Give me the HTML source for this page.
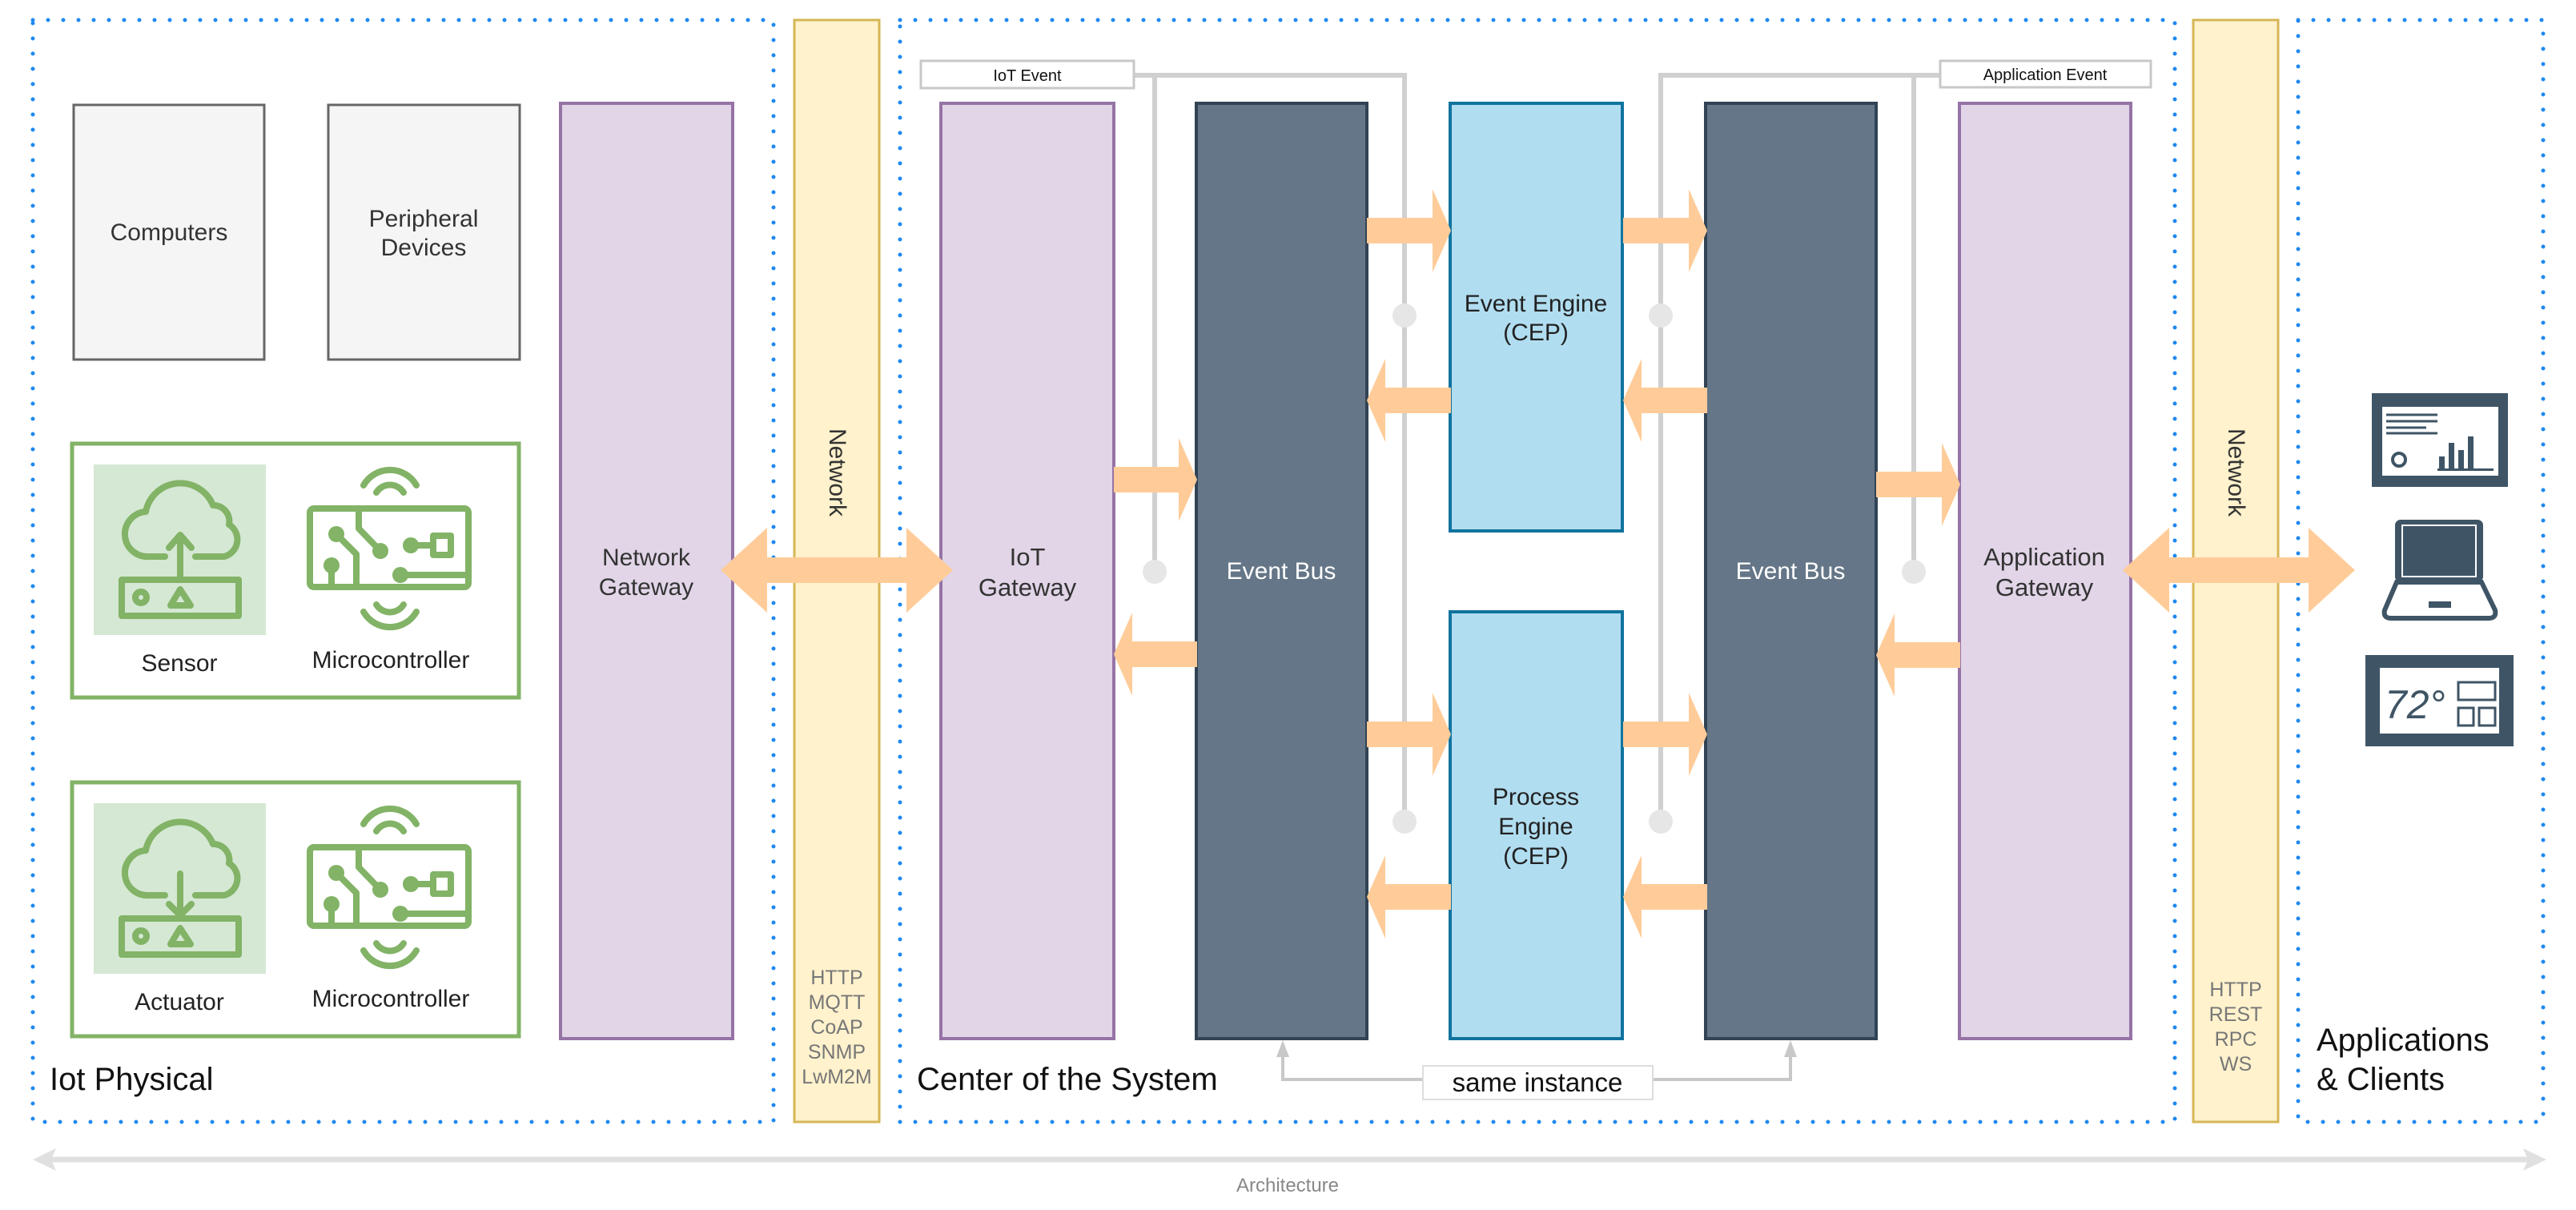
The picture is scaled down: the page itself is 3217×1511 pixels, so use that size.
<!DOCTYPE html>
<html><head><meta charset="utf-8"><style>
html,body{margin:0;padding:0;background:#fff;}
svg{display:block;}
text{font-family:"Liberation Sans",sans-serif;}
</style></head><body>
<svg width="3217" height="1511" viewBox="0 0 3217 1511" xmlns="http://www.w3.org/2000/svg">
<!-- dotted containers -->
<g fill="none" stroke="#1E88F0" stroke-width="5" stroke-dasharray="0 19" stroke-linecap="round">
<rect x="41" y="25" width="925" height="1376"/>
<rect x="1124" y="25" width="1592" height="1376"/>
<rect x="2870" y="25" width="306" height="1376"/>
</g>
<!-- network bars -->
<rect x="992" y="25" width="106" height="1376" fill="#FFF2CC" stroke="#D6B656" stroke-width="3"/>
<rect x="2739" y="25" width="106" height="1376" fill="#FFF2CC" stroke="#D6B656" stroke-width="3"/>
<text transform="translate(1036,590) rotate(90)" text-anchor="middle" font-size="30" fill="#333">Network</text>
<text transform="translate(2783,590) rotate(90)" text-anchor="middle" font-size="30" fill="#333">Network</text>
<g font-size="25" fill="#777" text-anchor="middle">
<text x="1045" y="1229">HTTP</text><text x="1045" y="1260">MQTT</text><text x="1045" y="1291">CoAP</text><text x="1045" y="1322">SNMP</text><text x="1045" y="1353">LwM2M</text>
<text x="2792" y="1244">HTTP</text><text x="2792" y="1275">REST</text><text x="2792" y="1306">RPC</text><text x="2792" y="1337">WS</text>
</g>
<!-- left panel -->
<rect x="92" y="131" width="238" height="318" fill="#F5F5F5" stroke="#666" stroke-width="3"/>
<rect x="410" y="131" width="239" height="318" fill="#F5F5F5" stroke="#666" stroke-width="3"/>
<text x="211" y="300" font-size="30" fill="#333" text-anchor="middle">Computers</text>
<text x="529" y="283" font-size="30" fill="#333" text-anchor="middle">Peripheral</text>
<text x="529" y="319" font-size="30" fill="#333" text-anchor="middle">Devices</text>
<rect x="700" y="129" width="215" height="1168" fill="#E1D5E7" stroke="#9673A6" stroke-width="4"/>
<text x="807" y="706" font-size="30" fill="#333" text-anchor="middle">Network</text>
<text x="807" y="743" font-size="30" fill="#333" text-anchor="middle">Gateway</text>

<g id="dev1">
<rect x="90" y="554" width="558" height="317" fill="#fff" stroke="#82B366" stroke-width="5"/>
<rect x="117" y="580" width="215" height="213" fill="#D5E8D4"/>
<g fill="none" stroke="#82B366" stroke-width="8" stroke-linecap="round" stroke-linejoin="round">
<path d="M206,695 H186 a28,28 0 0 1 -4,-56 a44,44 0 0 1 84,-8 a20,20 0 0 1 20,24 a22,22 0 0 1 -6,40 H244"/>
<line x1="225" y1="722" x2="225" y2="670"/><polyline points="211,684 225,668 239,684"/>
<rect x="152" y="724" width="146" height="45"/>
<circle cx="176" cy="746" r="7"/><polygon points="213,756 225,736 238,756"/>
<rect x="387" y="635" width="198" height="98" rx="5"/>
<polyline points="448,635 448,660 475,688"/><polyline points="420,667 445,692 445,733"/>
<line x1="414" y1="706" x2="414" y2="733"/><line x1="513" y1="681" x2="540" y2="681"/>
<rect x="541" y="669" width="22" height="24"/><line x1="500" y1="718" x2="585" y2="718"/>
<path d="M470,615 A20,20 0 0 1 504,615"/><path d="M454,606 A38,38 0 0 1 520,606"/>
<path d="M470,755 A20,20 0 0 0 504,755"/><path d="M454,764 A38,38 0 0 0 520,764"/>
</g>
<g fill="#82B366"><circle cx="475" cy="688" r="10"/><circle cx="420" cy="667" r="10"/><circle cx="414" cy="706" r="10"/><circle cx="513" cy="681" r="10"/><circle cx="500" cy="718" r="10"/></g>
<text x="488" y="834" font-size="30" fill="#222" text-anchor="middle">Microcontroller</text>
</g>
<text x="224" y="838" font-size="30" fill="#222" text-anchor="middle">Sensor</text>
<g transform="translate(0,423)">
<rect x="90" y="554" width="558" height="317" fill="#fff" stroke="#82B366" stroke-width="5"/>
<rect x="117" y="580" width="215" height="213" fill="#D5E8D4"/>
<g fill="none" stroke="#82B366" stroke-width="8" stroke-linecap="round" stroke-linejoin="round">
<path d="M206,695 H186 a28,28 0 0 1 -4,-56 a44,44 0 0 1 84,-8 a20,20 0 0 1 20,24 a22,22 0 0 1 -6,40 H244"/>
<line x1="225" y1="722" x2="225" y2="668"/><polyline points="211,706 225,720 239,706"/>
<rect x="152" y="724" width="146" height="45"/>
<circle cx="176" cy="746" r="7"/><polygon points="213,756 225,736 238,756"/>
<rect x="387" y="635" width="198" height="98" rx="5"/>
<polyline points="448,635 448,660 475,688"/><polyline points="420,667 445,692 445,733"/>
<line x1="414" y1="706" x2="414" y2="733"/><line x1="513" y1="681" x2="540" y2="681"/>
<rect x="541" y="669" width="22" height="24"/><line x1="500" y1="718" x2="585" y2="718"/>
<path d="M470,615 A20,20 0 0 1 504,615"/><path d="M454,606 A38,38 0 0 1 520,606"/>
<path d="M470,755 A20,20 0 0 0 504,755"/><path d="M454,764 A38,38 0 0 0 520,764"/>
</g>
<g fill="#82B366"><circle cx="475" cy="688" r="10"/><circle cx="420" cy="667" r="10"/><circle cx="414" cy="706" r="10"/><circle cx="513" cy="681" r="10"/><circle cx="500" cy="718" r="10"/></g>
<text x="488" y="834" font-size="30" fill="#222" text-anchor="middle">Microcontroller</text>
<text x="224" y="838" font-size="30" fill="#222" text-anchor="middle">Actuator</text>
</g>
<text x="62" y="1361" font-size="40" fill="#111">Iot Physical</text>

<!-- center gray connectors -->
<g fill="none" stroke="#D0D0D0" stroke-width="6">
<polyline points="1416,94 1754,94 1754,1026"/>
<line x1="1442" y1="94" x2="1442" y2="714"/>
<polyline points="2423,94 2074,94 2074,1026"/>
<line x1="2390" y1="94" x2="2390" y2="714"/>
</g>
<g fill="#E6E6E6">
<circle cx="1442" cy="714" r="15"/><circle cx="1754" cy="394" r="15"/><circle cx="1754" cy="1026" r="15"/>
<circle cx="2390" cy="714" r="15"/><circle cx="2074" cy="394" r="15"/><circle cx="2074" cy="1026" r="15"/>
</g>
<rect x="1150" y="76" width="266" height="34" fill="#fff" stroke="#C8C8C8" stroke-width="3"/>
<text x="1283" y="101" font-size="20" fill="#111" text-anchor="middle">IoT Event</text>
<rect x="2423" y="76" width="263" height="33" fill="#fff" stroke="#C8C8C8" stroke-width="3"/>
<text x="2554" y="100" font-size="20" fill="#111" text-anchor="middle">Application Event</text>

<!-- center boxes -->
<rect x="1175" y="129" width="216" height="1168" fill="#E1D5E7" stroke="#9673A6" stroke-width="4"/>
<text x="1283" y="706" font-size="31" fill="#333" text-anchor="middle">IoT</text>
<text x="1283" y="744" font-size="31" fill="#333" text-anchor="middle">Gateway</text>
<rect x="1494" y="129" width="213" height="1168" fill="#647687" stroke="#314354" stroke-width="4"/>
<text x="1600" y="723" font-size="30" fill="#fff" text-anchor="middle">Event Bus</text>
<rect x="1811" y="129" width="215" height="534" fill="#B1DDF0" stroke="#10739E" stroke-width="4"/>
<text x="1918" y="389" font-size="30" fill="#222" text-anchor="middle">Event Engine</text>
<text x="1918" y="425" font-size="30" fill="#222" text-anchor="middle">(CEP)</text>
<rect x="1811" y="764" width="215" height="533" fill="#B1DDF0" stroke="#10739E" stroke-width="4"/>
<text x="1918" y="1005" font-size="30" fill="#222" text-anchor="middle">Process</text>
<text x="1918" y="1042" font-size="30" fill="#222" text-anchor="middle">Engine</text>
<text x="1918" y="1079" font-size="30" fill="#222" text-anchor="middle">(CEP)</text>
<rect x="2130" y="129" width="213" height="1168" fill="#647687" stroke="#314354" stroke-width="4"/>
<text x="2236" y="723" font-size="30" fill="#fff" text-anchor="middle">Event Bus</text>
<rect x="2447" y="129" width="214" height="1168" fill="#E1D5E7" stroke="#9673A6" stroke-width="4"/>
<text x="2553" y="706" font-size="31" fill="#333" text-anchor="middle">Application</text>
<text x="2553" y="744" font-size="31" fill="#333" text-anchor="middle">Gateway</text>

<!-- orange arrows -->
<g fill="#FFCC99">
<polygon points="900,712 958,659 958,696 1132,696 1132,659 1190,712 1132,765 1132,728 958,728 958,765"/>
<polygon points="2651,712 2709,659 2709,696 2883,696 2883,659 2941,712 2883,765 2883,728 2709,728 2709,765"/>
<polygon points="1391,583 1472,583 1472,547 1495,599 1472,651 1472,615 1391,615"/>
<polygon points="1495,801 1414,801 1414,765 1391,817 1414,869 1414,833 1495,833"/>
<polygon points="1707,272 1789,272 1789,236 1812,288 1789,340 1789,304 1707,304"/>
<polygon points="1812,484 1730,484 1730,448 1707,500 1730,552 1730,516 1812,516"/>
<polygon points="2027,272 2109,272 2109,236 2132,288 2109,340 2109,304 2027,304"/>
<polygon points="2132,484 2050,484 2050,448 2027,500 2050,552 2050,516 2132,516"/>
<polygon points="1707,901 1789,901 1789,865 1812,917 1789,969 1789,933 1707,933"/>
<polygon points="1812,1104 1730,1104 1730,1068 1707,1120 1730,1172 1730,1136 1812,1136"/>
<polygon points="2027,901 2109,901 2109,865 2132,917 2109,969 2109,933 2027,933"/>
<polygon points="2132,1104 2050,1104 2050,1068 2027,1120 2050,1172 2050,1136 2132,1136"/>
<polygon points="2343,589 2425,589 2425,553 2448,605 2425,657 2425,621 2343,621"/>
<polygon points="2448,802 2366,802 2366,766 2343,818 2366,870 2366,834 2448,834"/>
</g>

<!-- same instance -->
<g fill="none" stroke="#C8C8C8" stroke-width="4">
<polyline points="1602,1310 1602,1348 1777,1348"/>
<polyline points="2064,1348 2236,1348 2236,1310"/>
</g>
<polygon points="1602,1299 1594,1320 1610,1320" fill="#C8C8C8"/>
<polygon points="2236,1299 2228,1320 2244,1320" fill="#C8C8C8"/>
<rect x="1777" y="1331" width="287" height="42" fill="#fff" stroke="#DDD" stroke-width="2"/>
<text x="1920" y="1363" font-size="33" fill="#111" text-anchor="middle">same instance</text>
<text x="1145" y="1361" font-size="40" fill="#111">Center of the System</text>

<!-- right icons -->
<g>
<rect x="2962" y="491" width="170" height="117" fill="#3F5566"/>
<rect x="2975" y="508" width="145" height="86" fill="#fff"/>
<g stroke="#3F5566" stroke-width="3"><line x1="2980" y1="518" x2="3044" y2="518"/><line x1="2980" y1="526" x2="3044" y2="526"/><line x1="2980" y1="534" x2="3030" y2="534"/><line x1="2980" y1="541" x2="3044" y2="541"/></g>
<circle cx="2996" cy="574" r="8" fill="none" stroke="#3F5566" stroke-width="4"/>
<g fill="#3F5566"><rect x="3046" y="570" width="7" height="16"/><rect x="3058" y="553" width="7" height="33"/><rect x="3070" y="562" width="7" height="24"/><rect x="3082" y="545" width="7" height="41"/><rect x="3044" y="585" width="70" height="3"/></g>
<rect x="2993" y="651" width="106" height="74" rx="5" fill="#3F5566" stroke="#3F5566" stroke-width="4"/>
<rect x="3000" y="656" width="92" height="64" fill="#3F5566" stroke="#fff" stroke-width="2"/>
<path d="M2993,727 H3099 L3116,762 Q3118,772 3108,772 H2986 Q2976,772 2978,762 Z" fill="#fff" stroke="#3F5566" stroke-width="6"/>
<rect x="3033" y="751" width="28" height="8" fill="#3F5566"/>
<rect x="2954" y="818" width="185" height="114" fill="#3F5566"/>
<rect x="2972" y="834" width="149" height="82" fill="#fff"/>
<text x="2978" y="897" font-size="50" fill="#3F5566" font-style="italic">72°</text>
<g fill="none" stroke="#3F5566" stroke-width="3"><rect x="3070" y="852" width="46" height="22"/><rect x="3070" y="884" width="19" height="22"/><rect x="3096" y="884" width="20" height="22"/></g>
</g>
<text x="2893" y="1312" font-size="40" fill="#111">Applications</text>
<text x="2893" y="1361" font-size="40" fill="#111">&amp; Clients</text>

<!-- architecture arrow -->
<line x1="60" y1="1448" x2="3160" y2="1448" stroke="#E0E0E0" stroke-width="7"/>
<polygon points="41,1448 70,1434 64,1448 70,1462" fill="#E0E0E0"/>
<polygon points="3180,1448 3151,1434 3157,1448 3151,1462" fill="#E0E0E0"/>
<text x="1608" y="1488" font-size="24" fill="#888" text-anchor="middle">Architecture</text>
</svg>
</body></html>
